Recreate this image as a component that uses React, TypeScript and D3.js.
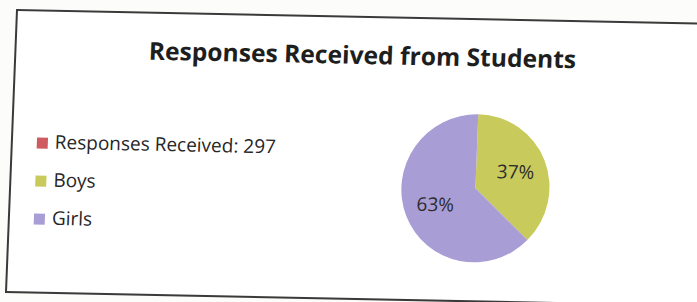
import * as d3 from "d3";
import { useLayoutEffect, useRef } from "react";

const categories = ["Responses Received: 297", "Boys", "Girls"];
const values = [0, 37, 63];
const sliceLabels = ["", "37%", "63%"];
const colors = ["#cf5b60", "#c9ca5c", "#a99dd6"];
const title = "Responses Received from Students";

const width = 697;
const height = 302;

export default function App() {
  const ref = useRef<SVGSVGElement>(null);

  useLayoutEffect(() => {
    const svg = d3.select(ref.current);
    svg.selectAll("*").remove();

    svg.append("rect").attr("width", width).attr("height", height).attr("fill", "#fcfcfa");

    // the photo is slightly tilted, so the whole chart sits in a skewed frame
    const g = svg.append("g").attr("transform", "matrix(1,0.02,-0.039,1,17,10)");

    g.append("rect")
      .attr("width", 780)
      .attr("height", 282)
      .attr("fill", "#ffffff")
      .attr("stroke", "#3a3a3a")
      .attr("stroke-width", 2);

    g.append("text")
      .attr("x", 347)
      .attr("y", 47)
      .attr("text-anchor", "middle")
      .style("font-family", "Open Sans")
      .style("font-weight", 700)
      .style("font-size", "24.6px")
      .attr("fill", "#1e1e1e")
      .text(title);

    const legend = g
      .selectAll("g.legend")
      .data(categories)
      .enter()
      .append("g")
      .attr("class", "legend")
      .attr("transform", (_, i) => `translate(25,${138 + i * 38})`);

    legend
      .append("rect")
      .attr("y", -11)
      .attr("width", 11)
      .attr("height", 11)
      .attr("fill", (_, i) => colors[i]);

    legend
      .append("text")
      .attr("x", 18)
      .style("font-family", "Open Sans")
      .style("font-size", "19px")
      .attr("fill", "#262626")
      .text((d) => d);

    const pieData = categories.map((c, i) => ({ name: c, value: values[i], label: sliceLabels[i], color: colors[i] }));
    const createPie = d3
      .pie<(typeof pieData)[number]>()
      .value((d) => d.value)
      .sort(null);
    const arcs = createPie(pieData).filter((d) => d.data.value > 0);

    const r = 74;
    const arc = d3.arc<d3.PieArcDatum<(typeof pieData)[number]>>().innerRadius(0).outerRadius(r);
    const labelArc = d3.arc<d3.PieArcDatum<(typeof pieData)[number]>>().innerRadius(86).outerRadius(0);

    const pie = g.append("g").attr("transform", "translate(465,169)");
    pie
      .selectAll("path")
      .data(arcs)
      .enter()
      .append("path")
      .attr("d", arc)
      .attr("fill", (d) => d.data.color);

    pie
      .selectAll("text")
      .data(arcs)
      .enter()
      .append("text")
      .attr("transform", (d) => "translate(" + labelArc.centroid(d) + ")")
      .attr("text-anchor", "middle")
      .attr("dy", "0.35em")
      .style("font-family", "Open Sans")
      .style("font-size", "19px")
      .attr("fill", "#2b2b2b")
      .text((d) => d.data.label);
  }, []);

  return (
    <svg
      ref={ref}
      width={width}
      height={height}
      style={{ position: "absolute", left: 0, top: 0 }}
    />
  );
}
